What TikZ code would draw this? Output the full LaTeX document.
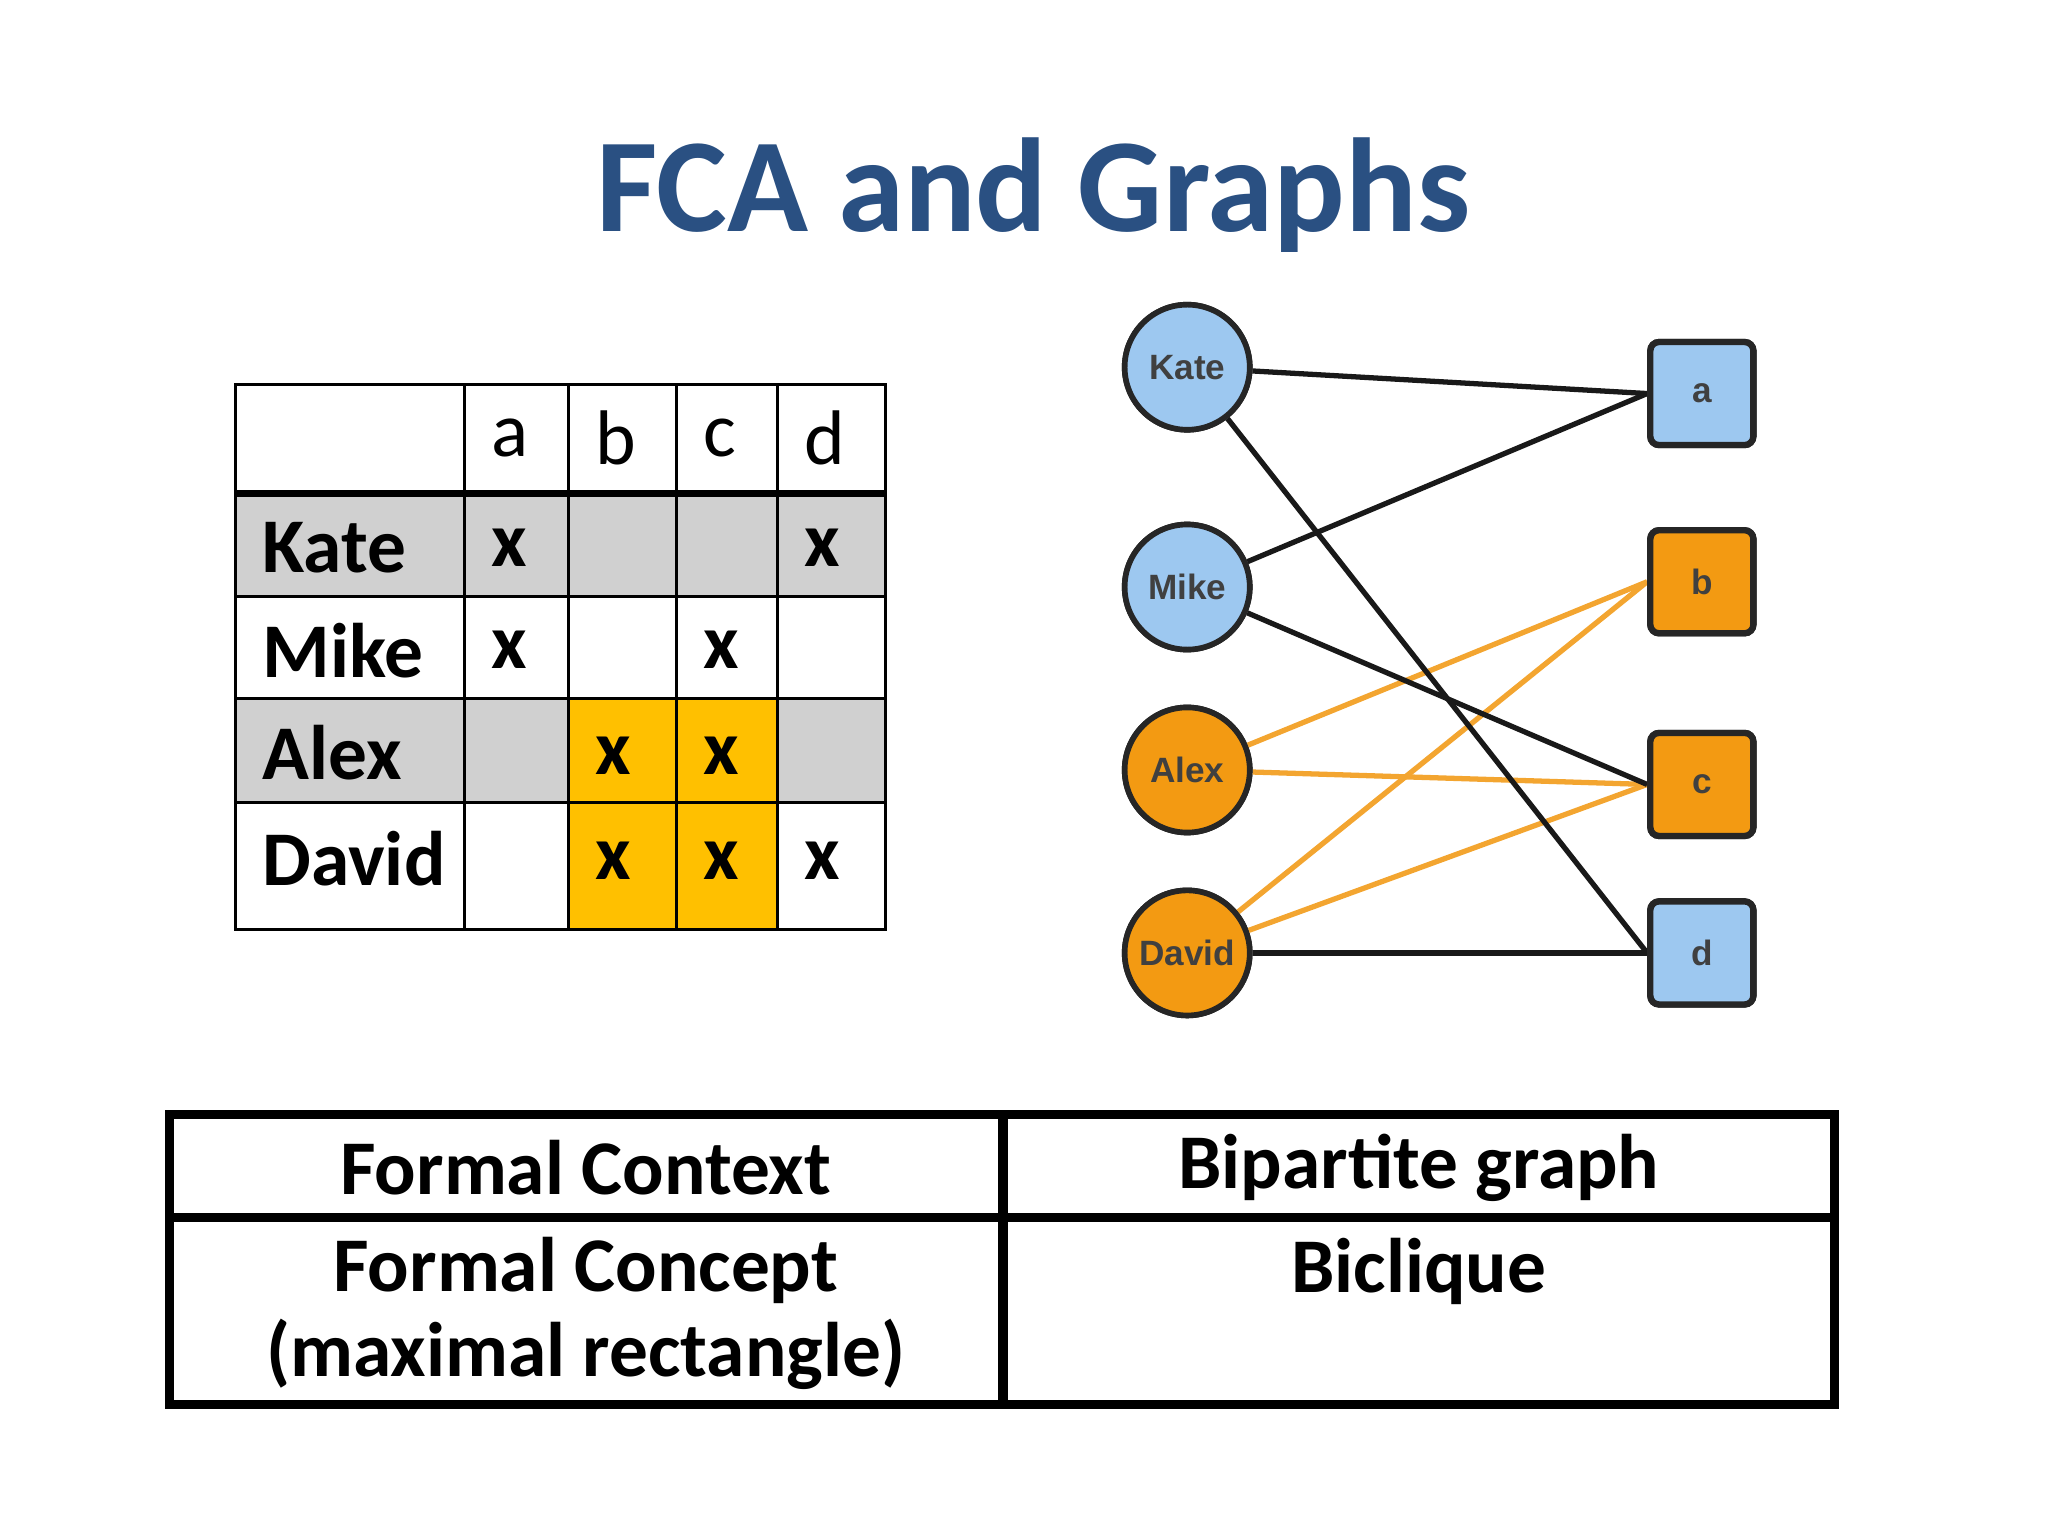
\documentclass[tikz,border=0pt]{standalone}
\usepackage{fontspec}
\setmainfont{Carlito}
\newfontfamily\gfont{Liberation Sans}
\definecolor{titleblue}{HTML}{2A5082}
\definecolor{cellgray}{HTML}{D0D0D0}
\definecolor{cellorange}{HTML}{FFC000}
\definecolor{nblue}{HTML}{9DC8F0}
\definecolor{norange}{HTML}{F39A12}
\definecolor{eorange}{HTML}{F3A530}
\tikzset{
 cell/.style={font=\fontsize{22}{26}\selectfont\bfseries,anchor=west},
 head/.style={font=\fontsize{22}{26}\selectfont,anchor=west},
 obj/.style={circle,draw=black!85,line width=1.6pt,minimum size=1.25cm,inner sep=0pt,font=\gfont\fontsize{10}{12}\selectfont\bfseries,text=black!75},
 att/.style={rounded corners=2.5pt,draw=black!85,line width=1.8pt,minimum size=1.03cm,inner sep=0pt,font=\gfont\fontsize{10}{12}\selectfont\bfseries,text=black!75},
 bedge/.style={line width=1.5pt,black!90},
 oedge/.style={line width=1.5pt,eorange},
 btxt/.style={font=\fontsize{22}{26}\selectfont\bfseries,align=center}
}
\begin{document}
\begin{tikzpicture}[x=0.01316cm,y=-0.01316cm]
\useasboundingbox (0,0) rectangle (1556,1166);
\node[text=titleblue,font=\fontsize{38}{44}\selectfont\bfseries] (title) at (785,148) {FCA and Graphs};
% table fills
\fill[cellgray] (179,375) rectangle (673,453);
\fill[cellgray] (179,531) rectangle (673,610);
\fill[cellorange] (432,531) rectangle (591,706);
\draw[line width=0.8pt] (179,292) rectangle (673,706);
\foreach \x in {353,432,514,591} \draw[line width=0.8pt] (\x,292) -- (\x,706);
\foreach \y in {453,531,610} \draw[line width=0.8pt] (179,\y) -- (673,\y);
\draw[line width=2pt] (179,375) -- (673,375);
\node[head] (ha) at (364,333) {a};
\node[head] (hb) at (443,333) {b};
\node[head] (hc) at (525,333) {c};
\node[head] (hd) at (602,333) {d};
\node[cell] (r1) at (190,416) {Kate};
\node[cell] (r2) at (190,494) {Mike};
\node[cell] (r3) at (190,572) {Alex};
\node[cell] (r4) at (190,652) {David};
\node[cell] (x11) at (364,416) {x};
\node[cell] (x14) at (602,416) {x};
\node[cell] (x21) at (364,494) {x};
\node[cell] (x23) at (525,494) {x};
\node[cell] (x32) at (443,574) {x};
\node[cell] (x33) at (525,574) {x};
\node[cell] (x42) at (443,654) {x};
\node[cell] (x43) at (525,654) {x};
\node[cell] (x44) at (602,654) {x};
% graph
\node[obj,fill=nblue] (kate) at (902,279) {Kate};
\node[obj,fill=nblue] (mike) at (902,446) {Mike};
\node[obj,fill=norange] (alex) at (902,585) {Alex};
\node[obj,fill=norange] (david) at (902,724) {David};
\node[att,fill=nblue] (a) at (1293,299) {a};
\node[att,fill=norange] (b) at (1293,442) {b};
\node[att,fill=norange] (c) at (1293,596) {c};
\node[att,fill=nblue] (d) at (1293,724) {d};
\begin{scope}[on background layer/.style={}]
\draw[oedge] (alex) -- (b.west);
\draw[oedge] (alex) -- (c.west);
\draw[oedge] (david) -- (b.west);
\draw[oedge] (david) -- (c.west);
\draw[bedge] (kate) -- (a.west);
\draw[bedge] (kate) -- (d.west);
\draw[bedge] (mike) -- (a.west);
\draw[bedge] (mike) -- (c.west);
\draw[bedge] (david) -- (d.west);
\end{scope}
% redraw nodes on top
\node[obj,fill=nblue] at (902,279) {Kate};
\node[obj,fill=nblue] at (902,446) {Mike};
\node[obj,fill=norange] at (902,585) {Alex};
\node[obj,fill=norange] at (902,724) {David};
\node[att,fill=nblue] at (1293,299) {a};
\node[att,fill=norange] at (1293,442) {b};
\node[att,fill=norange] at (1293,596) {c};
\node[att,fill=nblue] at (1293,724) {d};
% bottom table
\draw[line width=2.6pt] (129,847) rectangle (1394,1067);
\draw[line width=2.6pt] (762,847) -- (762,1067);
\draw[line width=2.6pt] (129,925) -- (1394,925);
\node[btxt] (fc) at (445,887) {Formal Context};
\node[btxt] (bg) at (1078,887) {Bipartite graph};
\node[btxt] (fcon) at (445,998) {Formal Concept\\[-2pt](maximal rectangle)};
\node[btxt] (bic) at (1078,966) {Biclique};
\end{tikzpicture}
\end{document}
